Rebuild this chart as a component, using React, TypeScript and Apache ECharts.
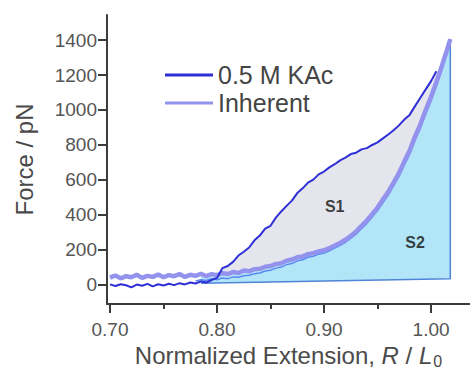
import React, { useEffect, useRef } from "react";
import * as echarts from "echarts";

// Normalized extension grid (R / L0) shared by both force curves
const extension = [
  0.700, 0.705, 0.710, 0.715, 0.720, 0.725, 0.730, 0.735, 0.740, 0.745,
  0.750, 0.755, 0.760, 0.765, 0.770, 0.775, 0.780, 0.785, 0.790, 0.795,
  0.800, 0.805, 0.810, 0.815, 0.820, 0.825, 0.830, 0.835, 0.840, 0.845,
  0.850, 0.855, 0.860, 0.865, 0.870, 0.875, 0.880, 0.885, 0.890, 0.895,
  0.900, 0.905, 0.910, 0.915, 0.920, 0.925, 0.930, 0.935, 0.940, 0.945,
  0.950, 0.955, 0.960, 0.965, 0.970, 0.975, 0.980, 0.985, 0.990, 0.995,
  1.000, 1.005,
];
const inherentTailExtension = [1.010, 1.015, 1.018];

// Force (pN), 0.5 M KAc
const kacForce = [
  3, -6, 4, -2, -14, 2, -5, 6, -8, 4,
  -3, 7, -1, 10, 3, 14, 8, 20, 14, 28,
  40, 96, 108, 132, 168, 190, 214, 255, 282, 322,
  338, 385, 420, 452, 482, 525, 552, 585, 602, 632,
  648, 672, 690, 712, 728, 748, 756, 775, 782, 800,
  815, 838, 860, 884, 912, 945, 972, 1022, 1070, 1118,
  1165, 1222,
];

// Force (pN), Inherent
const inherentForce = [
  42, 54, 38, 50, 44, 58, 40, 52, 46, 60,
  44, 56, 50, 62, 46, 58, 52, 64, 50, 62,
  56, 68, 62, 74, 68, 82, 78, 90, 92, 104,
  108, 120, 124, 138, 145, 158, 163, 176, 182, 192,
  198, 210, 225, 240, 258, 280, 305, 338, 368, 405,
  442, 488, 532, 585, 640, 705, 768, 848, 918, 1000,
  1075, 1160, 1250, 1345, 1405,
];

// Companion trace just under the inherent curve (from R/L0 = 0.780)
const traceStartIndex = 16;
const companionForce = [
  22, 30, 26, 36,
  30, 40, 36, 46, 44, 52, 55, 64, 68, 80,
  84, 96, 102, 116, 122, 138, 144, 158, 164, 176,
  182, 195, 210, 226, 244, 266, 290, 322, 352, 388,
  425, 470, 514, 566, 620, 684, 746, 826, 896, 978,
  1052, 1138, 1228, 1325, 1395,
];

// S2 lower boundary (extension, force)
const baselineExtension = [0.785, 1.018];
const baselineForce = [10, 35];

const yTicks = [0, 200, 400, 600, 800, 1000, 1200, 1400];
const xMajorTicks = [0.7, 0.8, 0.9, 1.0];
const xMinorTicks = [0.75, 0.85, 0.95];

const regionLabels = [
  { name: "S1", x: 0.91, y: 446 },
  { name: "S2", x: 0.985, y: 240 },
];

const FONT = "'Liberation Sans', Arial, Helvetica, sans-serif";

export default function App() {
  const ref = useRef<HTMLDivElement>(null);

  useEffect(() => {
    if (!ref.current) return;
    const chart = echarts.init(ref.current, undefined, { renderer: "svg" });

    const allExt = extension.concat(inherentTailExtension);
    const kacPts = extension.map((x, i) => [x, kacForce[i]]);
    const inhPts = allExt.map((x, i) => [x, inherentForce[i]]);
    const compPts = allExt
      .slice(traceStartIndex)
      .map((x, i) => [x, companionForce[i]]);

    const s1Start = 20; // 0.800
    const s1End = extension.length - 1;
    const s1Poly = kacPts
      .slice(s1Start, s1End + 1)
      .concat(inhPts.slice(s1Start, s1End + 1).reverse());
    const s2Poly = inhPts
      .slice(17)
      .concat([
        [baselineExtension[1], baselineForce[1]],
        [baselineExtension[0], baselineForce[0]],
      ]);
    const edgePts = [
      [baselineExtension[0], baselineForce[0]],
      [baselineExtension[1], baselineForce[1]],
      inhPts[inhPts.length - 1],
    ];

    const poly = (name: string, pts: number[][], fill: string) => ({
      type: "custom",
      name,
      silent: true,
      coordinateSystem: "cartesian2d",
      xAxisIndex: 0,
      yAxisIndex: 0,
      data: [pts[0]],
      renderItem: (_p: any, api: any) => ({
        type: "polygon",
        shape: { points: pts.map((p) => api.coord(p)) },
        style: { fill },
      }),
    });

    const axisColor = "#3c3c3c";

    chart.setOption({
      animation: false,
      textStyle: { fontFamily: FONT },
      grid: {
        left: 107,
        right: 0,
        top: 15,
        bottom: 68,
        containLabel: false,
        outerBoundsMode: "none",
      },
      legend: {
        data: ["0.5 M KAc", "Inherent"],
        orient: "vertical",
        left: 160,
        top: 56,
        icon: "rect",
        itemWidth: 48,
        itemHeight: 3,
        itemGap: 0,
        textStyle: {
          fontSize: 25,
          color: "#444",
          fontFamily: FONT,
          lineHeight: 28,
        },
      },
      xAxis: [
        {
          type: "value",
          min: 0.6972,
          max: 1.0364,
          axisLine: { show: true, onZero: false, lineStyle: { color: axisColor, width: 2 } },
          axisTick: {
            show: true,
            customValues: xMajorTicks,
            length: 9,
            lineStyle: { color: axisColor, width: 2 },
          },
          axisLabel: {
            customValues: xMajorTicks,
            formatter: (v: number) => v.toFixed(2),
            fontSize: 19,
            color: "#555",
            margin: 16,
            fontFamily: FONT,
          },
          splitLine: { show: false },
          name: "{n|Normalized Extension, }{i|R}{n| / }{i|L}{s|0}",
          nameLocation: "middle",
          nameGap: 37,
          nameTextStyle: {
            fontFamily: FONT,
            rich: {
              n: { fontSize: 24, color: "#4a4a4a", fontFamily: FONT },
              i: { fontSize: 24, color: "#4a4a4a", fontStyle: "italic", fontFamily: FONT },
              s: { fontSize: 16, color: "#4a4a4a", padding: [12, 0, 0, 1], fontFamily: FONT },
            },
          },
        },
        {
          type: "value",
          min: 0.6972,
          max: 1.0364,
          position: "bottom",
          axisLine: { show: false, onZero: false },
          axisTick: {
            show: true,
            customValues: xMinorTicks,
            length: 5,
            lineStyle: { color: axisColor, width: 2 },
          },
          axisLabel: { show: false },
          splitLine: { show: false },
        },
      ],
      yAxis: {
        type: "value",
        min: -109,
        max: 1543,
        axisLine: { show: true, onZero: false, lineStyle: { color: axisColor, width: 2 } },
        axisTick: {
          show: true,
          customValues: yTicks,
          length: 9,
          lineStyle: { color: axisColor, width: 2 },
        },
        axisLabel: {
          customValues: yTicks,
          formatter: (v: number) => String(v),
          fontSize: 19,
          color: "#555",
          margin: 10,
          fontFamily: FONT,
        },
        splitLine: { show: false },
        name: "Force / pN",
        nameLocation: "middle",
        nameGap: 71,
        nameTextStyle: { fontSize: 24, color: "#4a4a4a", fontFamily: FONT },
      },
      series: [
        poly("S2", s2Poly, "#b3e5f8"),
        poly("S1", s1Poly, "#e5e6ed"),
        {
          type: "line",
          name: "edge",
          silent: true,
          data: edgePts,
          showSymbol: false,
          lineStyle: { color: "#4f84d6", width: 1.5 },
        },
        {
          type: "line",
          name: "companion",
          silent: true,
          data: compPts,
          showSymbol: false,
          lineStyle: { color: "#5a88f2", width: 1.5 },
        },
        {
          type: "line",
          name: "Inherent",
          data: inhPts,
          showSymbol: false,
          itemStyle: { color: "#9393ee" },
          lineStyle: { color: "#9393ee", width: 4.5 },
        },
        {
          type: "line",
          name: "0.5 M KAc",
          data: kacPts,
          showSymbol: false,
          itemStyle: { color: "#2f2fd6" },
          lineStyle: { color: "#2f2fd6", width: 2 },
        },
        {
          type: "scatter",
          name: "labels",
          silent: true,
          symbolSize: 0,
          data: regionLabels.map((r) => ({ name: r.name, value: [r.x, r.y] })),
          label: {
            show: true,
            position: "inside",
            formatter: (p: any) => p.name,
            fontSize: 16,
            fontWeight: "bold",
            color: "#111",
            fontFamily: FONT,
          },
        },
      ],
    });

    return () => chart.dispose();
  }, []);

  return (
    <div
      ref={ref}
      style={{ position: "fixed", left: 0, top: 0, width: 470, height: 372, background: "#fff" }}
    />
  );
}
